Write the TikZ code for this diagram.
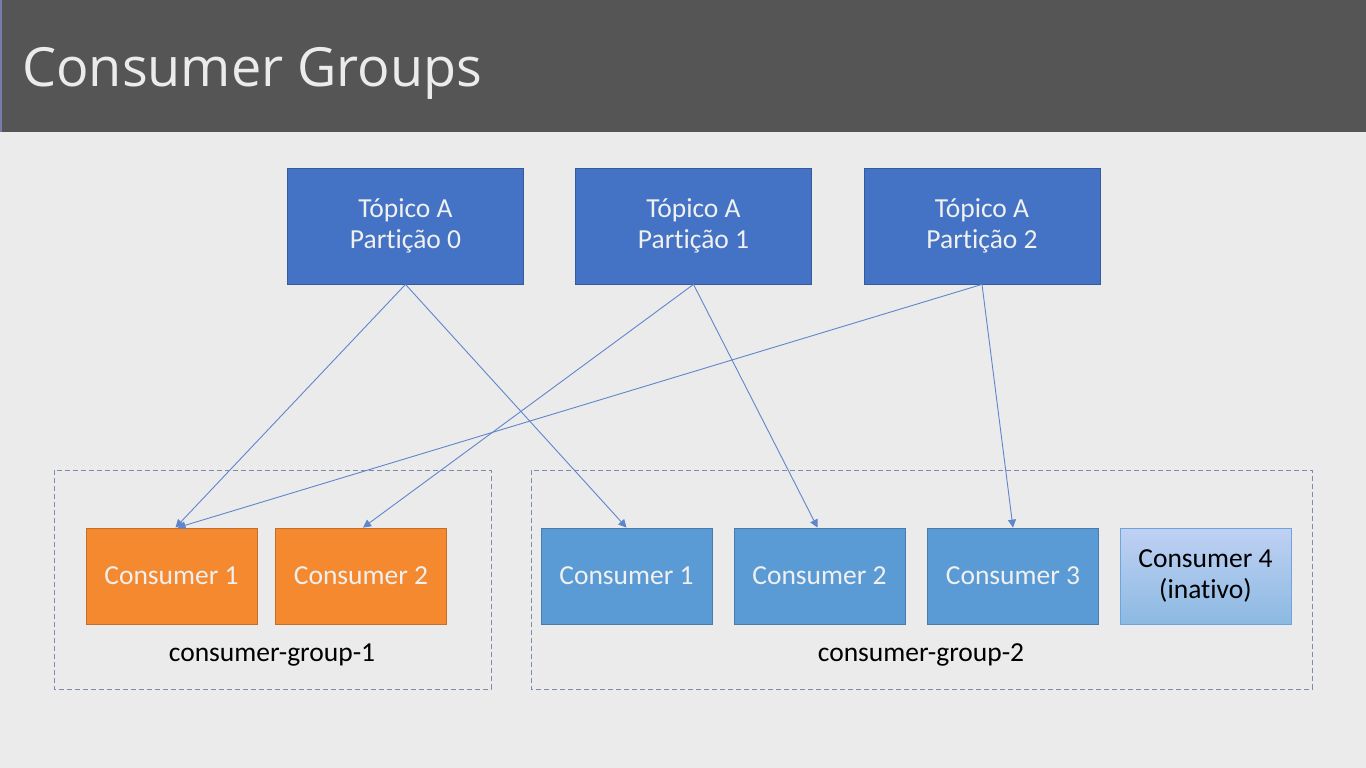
\documentclass[tikz,border=0pt]{standalone}
\usepackage{fontspec}
\setmainfont{Carlito}[Ligatures=NoCommon]
\newfontfamily\titlefont{Open Sans}
\usetikzlibrary{arrows.meta,shadings}
\definecolor{bgc}{HTML}{EBEBEB}
\definecolor{barc}{HTML}{555555}
\definecolor{topicc}{HTML}{4472C4}
\definecolor{orangec}{HTML}{F5892F}
\definecolor{bluec}{HTML}{5B9BD5}
\definecolor{linec}{HTML}{5F86CC}
\definecolor{dashc}{HTML}{7C8CA6}
\tikzset{
  x=1pt, y=-1pt,
  topicbox/.style={draw=topicc!80!black, fill=topicc, line width=0.8pt, text=white!94!black,
    minimum width=236pt, minimum height=116pt, inner sep=0pt, align=center,
    font=\fontsize{27.5}{30.5}\selectfont},
  consbox/.style={draw=#1!80!black, fill=#1, line width=0.8pt, text=white!94!black,
    minimum width=171pt, minimum height=96pt, inner sep=0pt, align=center,
    font=\fontsize{27.5}{31}\selectfont},
  idlebox/.style={draw=bluec!90!white, top color=blue!20!bluec!35!white, bottom color=bluec!70!white,
    line width=0.8pt, text=black,
    minimum width=171pt, minimum height=96pt, inner sep=0pt, align=center,
    font=\fontsize{27.5}{31}\selectfont},
  groupbox/.style={draw=dashc, dash pattern=on 5pt off 3pt, line width=0.9pt},
  grouplabel/.style={text=black, font=\fontsize{27.5}{30}\selectfont},
  feed/.style={draw=linec, line width=0.9pt, -{Triangle[length=8pt,width=8pt]}}
}
\begin{document}
\begin{tikzpicture}
% canvas and title bar
\fill[bgc] (0,0) rectangle (1366,768);
\useasboundingbox (0,0) rectangle (1366,768);
\fill[barc] (0,0) rectangle (1366,132);
\fill[barc!60!white!80!blue] (0,0) rectangle (2,132);
\node[anchor=base west, text=white!92!black, inner sep=0pt,
  font=\titlefont\fontsize{54}{60}\selectfont] (title) at (22,86) {Consumer Groups};

% group frames
\draw[groupbox] (54,470) rectangle (491,689);
\draw[groupbox] (531,470) rectangle (1312,689);
\node[grouplabel] (g1) at (272,655) {consumer-group-1};
\node[grouplabel] (g2) at (921,655) {consumer-group-2};

% partitions
\node[topicbox] (p0) at (405.5,226) {Tópico A\\Partição 0};
\node[topicbox] (p1) at (693.5,226) {Tópico A\\Partição 1};
\node[topicbox] (p2) at (982,226) {Tópico A\\Partição 2};

% consumers of group 1
\node[consbox=orangec] (a1) at (171.5,576) {Consumer 1};
\node[consbox=orangec] (a2) at (361,576) {Consumer 2};

% consumers of group 2
\node[consbox=bluec] (b1) at (626.5,576) {Consumer 1};
\node[consbox=bluec] (b2) at (819.5,576) {Consumer 2};
\node[consbox=bluec] (b3) at (1013,576) {Consumer 3};
\node[idlebox] (b4) at (1205.5,576) {Consumer 4\\(inativo)};

% partition assignments
\draw[feed] (p0.south) -- ([xshift=4pt]a1.north);
\draw[feed] (p0.south) -- (b1.north);
\draw[feed] (p1.south) -- ([xshift=2pt]a2.north);
\draw[feed] (p1.south) -- ([xshift=-2pt]b2.north);
\draw[feed] (p2.south) -- ([xshift=6pt]a1.north);
\draw[feed] (p2.south) -- (b3.north);

% watermark
\node[text=white!85!gray, font=\sffamily\bfseries\fontsize{14}{16}\selectfont] (wm) at (1334,752) {ûdemy};
\end{tikzpicture}
\end{document}
